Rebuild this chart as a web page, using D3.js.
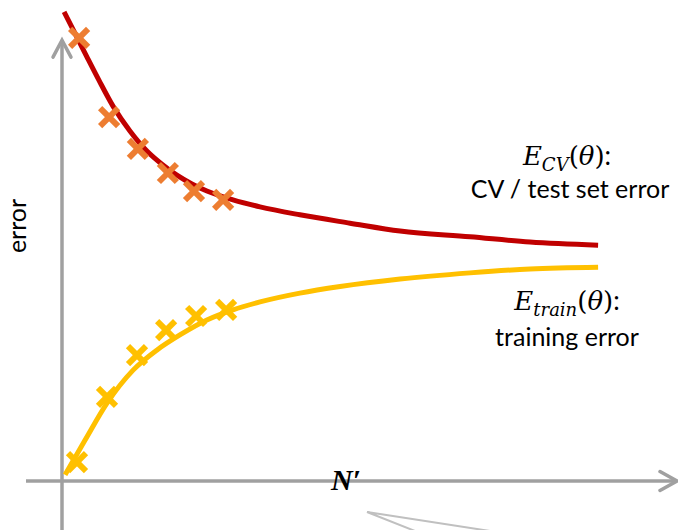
<!DOCTYPE html>
<html>
<head>
<meta charset="utf-8">
<script src="https://cdn.jsdelivr.net/npm/d3@7/dist/d3.min.js"></script>
<style>
  html, body { margin: 0; padding: 0; background: #fff; }
  svg { display: block; }
</style>
</head>
<body>
<svg id="chart" width="678" height="530"></svg>
<script>
// Learning curves: error against training-set size N'
const cvCurveN   = [0.07, 0.43, 0.83, 1.23, 1.70, 2.27, 2.83, 3.33, 3.83, 4.33, 4.83, 5.70, 6.60, 7.93, 9.60, 11.27, 13.60, 15.60, 17.87];
const cvCurveErr = [10.66, 10.18, 9.64, 9.11, 8.52, 7.95, 7.50, 7.20, 6.95, 6.75, 6.59, 6.39, 6.23, 6.05, 5.86, 5.68, 5.55, 5.43, 5.36];

const trainCurveN   = [0.10, 0.77, 1.50, 2.37, 3.17, 3.93, 4.83, 5.70, 6.60, 7.93, 9.27, 11.27, 13.60, 15.60, 17.87];
const trainCurveErr = [0.14, 0.93, 1.77, 2.52, 2.98, 3.32, 3.66, 3.89, 4.07, 4.27, 4.42, 4.59, 4.73, 4.82, 4.86];

// measured points
const cvPointN     = [0.57, 1.57, 2.53, 3.53, 4.40, 5.37];
const cvPointErr   = [10.07, 8.27, 7.55, 7.00, 6.59, 6.39];
const trainPointN   = [0.50, 1.50, 2.50, 3.47, 4.47, 5.47];
const trainPointErr = [0.43, 1.91, 2.86, 3.43, 3.75, 3.89];

const yAxisLabel = "error";
const xAxisLabel = "N\u2032";
const cvLabelSub = "CV";
const cvCaption = "CV / test set error";
const trainLabelSub = "train";
const trainCaption = "training error";

const svg = d3.select("#chart");

const x = d3.scaleLinear().domain([0, 18]).range([62, 602]);
const y = d3.scaleLinear().domain([0, 10]).range([481, 41]);

const axisColor = "#A0A0A0";
const red = "#C00000", orange = "#ED7D31", gold = "#FFC000";
const sansFont = "Lato, 'Open Sans', sans-serif";
const mathFont = "'DejaVu Serif', serif";

// axes with open arrowheads
const axes = svg.append("g").attr("stroke", axisColor).attr("stroke-width", 3.5).attr("fill", "none");
axes.append("line")
  .attr("x1", x(0)).attr("x2", x(0))
  .attr("y1", y(-1.2)).attr("y2", y(10.02));
axes.append("path")
  .attr("stroke-linecap", "round").attr("stroke-linejoin", "miter")
  .attr("d", `M${x(0) - 9},${y(10.02) + 17} L${x(0)},${y(10.02)} L${x(0) + 9},${y(10.02) + 17}`);
axes.append("line")
  .attr("x1", x(-1.2)).attr("x2", x(20.5))
  .attr("y1", y(0)).attr("y2", y(0));
axes.append("path")
  .attr("stroke-linecap", "round")
  .attr("d", `M${x(20.5) - 17},${y(0) - 9.5} L${x(20.5)},${y(0)} L${x(20.5) - 17},${y(0) + 9.5}`);

// fragment of a callout pointer at the bottom
svg.append("path")
  .attr("fill", "none").attr("stroke", "#C0C0C0").attr("stroke-width", 2)
  .attr("d", "M490,531 L367,512 L415,531");

// curves
const line = d3.line().x(d => x(d[0])).y(d => y(d[1])).curve(d3.curveMonotoneX);
svg.append("path")
  .datum(d3.zip(cvCurveN, cvCurveErr))
  .attr("fill", "none").attr("stroke", red).attr("stroke-width", 5)
  .attr("d", line);
svg.append("path")
  .datum(d3.zip(trainCurveN, trainCurveErr))
  .attr("fill", "none").attr("stroke", gold).attr("stroke-width", 5)
  .attr("d", line);

// cross markers
function crosses(data, color) {
  const g = svg.append("g").attr("stroke", color).attr("stroke-width", 6);
  const s = 9;
  data.forEach(([n, e]) => {
    const cx = x(n), cy = y(e);
    g.append("line").attr("x1", cx - s).attr("y1", cy - s).attr("x2", cx + s).attr("y2", cy + s);
    g.append("line").attr("x1", cx - s).attr("y1", cy + s).attr("x2", cx + s).attr("y2", cy - s);
  });
}
crosses(d3.zip(cvPointN, cvPointErr), orange);
crosses(d3.zip(trainPointN, trainPointErr), gold);

// axis labels
svg.append("text")
  .attr("transform", "translate(26,226) rotate(-90)")
  .attr("text-anchor", "middle")
  .attr("font-family", sansFont).attr("font-size", 25)
  .attr("fill", "#000")
  .text(yAxisLabel);

svg.append("text")
  .attr("x", 346).attr("y", 490)
  .attr("text-anchor", "middle")
  .attr("font-family", "'Liberation Serif', serif").attr("font-size", 30)
  .attr("font-weight", "bold").attr("font-style", "italic")
  .attr("fill", "#000")
  .text(xAxisLabel);

// series labels
function mathLabel(cx, base, sub) {
  const t = svg.append("text")
    .attr("x", cx).attr("y", base)
    .attr("text-anchor", "middle")
    .attr("font-family", mathFont).attr("font-size", 26)
    .attr("fill", "#000");
  t.append("tspan").attr("font-style", "italic").text("E");
  t.append("tspan").attr("font-style", "italic").attr("font-size", 18).attr("dy", 6).text(sub);
  t.append("tspan").attr("dy", -6).text("(");
  t.append("tspan").attr("font-style", "italic").text("\u03B8");
  t.append("tspan").text(")");
  t.append("tspan").attr("font-family", sansFont).attr("font-size", 26).text(":");
}
function caption(cx, base, str) {
  svg.append("text")
    .attr("x", cx).attr("y", base)
    .attr("text-anchor", "middle")
    .attr("font-family", sansFont).attr("font-size", 25)
    .attr("fill", "#000")
    .text(str);
}
mathLabel(567, 165, cvLabelSub);
caption(570, 198, cvCaption);
mathLabel(567, 310, trainLabelSub);
caption(567, 346, trainCaption);
</script>
</body>
</html>
